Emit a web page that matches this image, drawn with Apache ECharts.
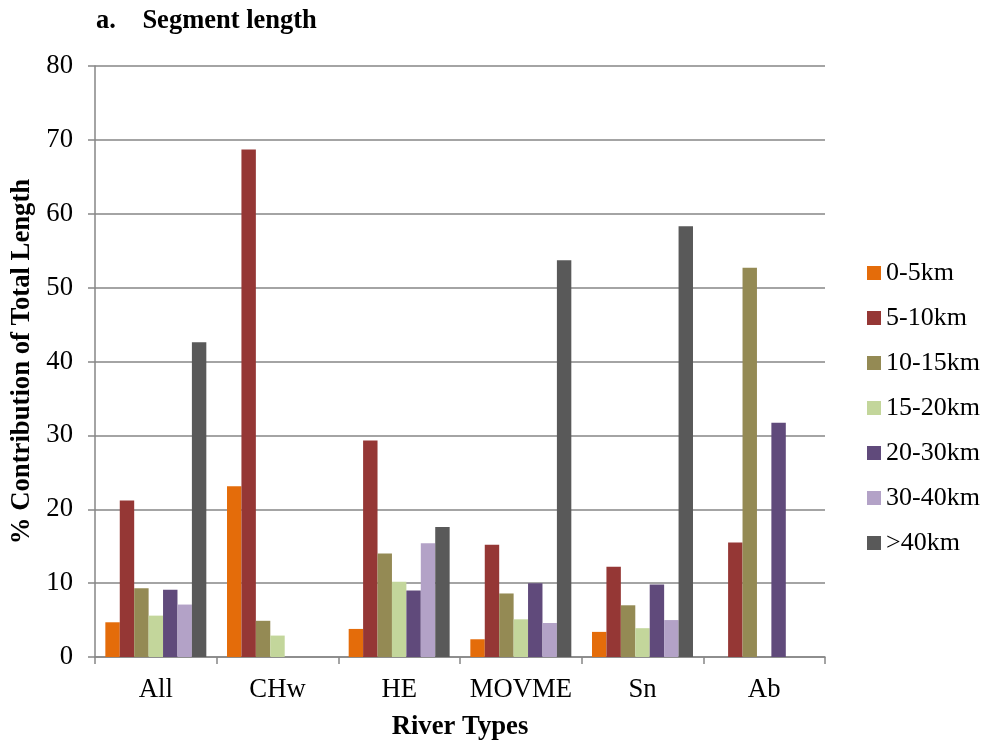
<!DOCTYPE html>
<html><head><meta charset="utf-8">
<script src="https://cdn.jsdelivr.net/npm/echarts@6/dist/echarts.min.js"></script>
<style>html,body{margin:0;padding:0;background:#fff}#c{width:989px;height:746px}</style>
</head><body><div id="c"></div>
<script>
var categories = ['All','CHw','HE','MOVME','Sn','Ab'];
var seriesNames = ['0-5km','5-10km','10-15km','15-20km','20-30km','30-40km','>40km'];
var s0_5   = [4.7, 23.1, 3.8, 2.4, 3.4, 0];
var s5_10  = [21.2, 68.7, 29.3, 15.2, 12.2, 15.5];
var s10_15 = [9.3, 4.9, 14.0, 8.6, 7.0, 52.7];
var s15_20 = [5.6, 2.9, 10.2, 5.1, 3.9, 0];
var s20_30 = [9.1, 0, 9.0, 10.0, 9.8, 31.7];
var s30_40 = [7.1, 0, 15.4, 4.6, 5.0, 0];
var s40    = [42.6, 0, 17.6, 53.7, 58.3, 0];
var colors = ['#E46C0A','#953735','#948A54','#C3D69B','#604A7B','#B3A2C7','#595959'];
var data = [s0_5, s5_10, s10_15, s15_20, s20_30, s30_40, s40];
var font = '"Liberation Serif","Times New Roman",serif';
var chart = echarts.init(document.getElementById('c'), null, {renderer:'canvas'});
chart.setOption({
  animation:false,
  color: colors,
  title: {text:'a.    Segment length', left:91, top:3,
    textStyle:{fontFamily:font, fontSize:26.5, fontWeight:'bold', color:'#000'}},
  legend: {orient:'vertical', left:862, top:255, itemWidth:14, itemHeight:14, itemGap:19,
    icon:'rect', data: seriesNames,
    textStyle:{fontFamily:font, fontSize:26, color:'#000'}},
  grid: {left:95, right:164, top:66, bottom:89, containLabel:false, outerBoundsMode:'none'},
  xAxis: {type:'category', data:categories,
    name:'River Types', nameLocation:'middle', nameGap:57,
    nameTextStyle:{fontFamily:font, fontSize:26.7, fontWeight:'bold', color:'#000'},
    axisLine:{lineStyle:{color:'#868686', width:1.5}},
    axisTick:{show:true, interval:0, length:7, alignWithLabel:false, lineStyle:{color:'#868686', width:1.5}},
    axisLabel:{interval:0, fontFamily:font, fontSize:26.7, color:'#000', margin:19}},
  yAxis: {type:'value', min:0, max:80, interval:10,
    name:'% Contribution of Total Length', nameLocation:'middle', nameGap:58, nameRotate:90,
    nameTextStyle:{fontFamily:font, fontSize:26.7, fontWeight:'bold', color:'#000'},
    axisLine:{show:true, lineStyle:{color:'#868686', width:1.5}},
    axisTick:{show:true, length:7, lineStyle:{color:'#868686', width:1.5}},
    splitLine:{show:true, lineStyle:{color:'#868686', width:1.5}},
    axisLabel:{fontFamily:font, fontSize:26.7, color:'#000', margin:22}},
  series: seriesNames.map(function(n,i){
    return {name:n, type:'bar', data:data[i], barGap:'0%', barCategoryGap:'17%',
      itemStyle:{color:colors[i]}};
  })
});
</script></body></html>
